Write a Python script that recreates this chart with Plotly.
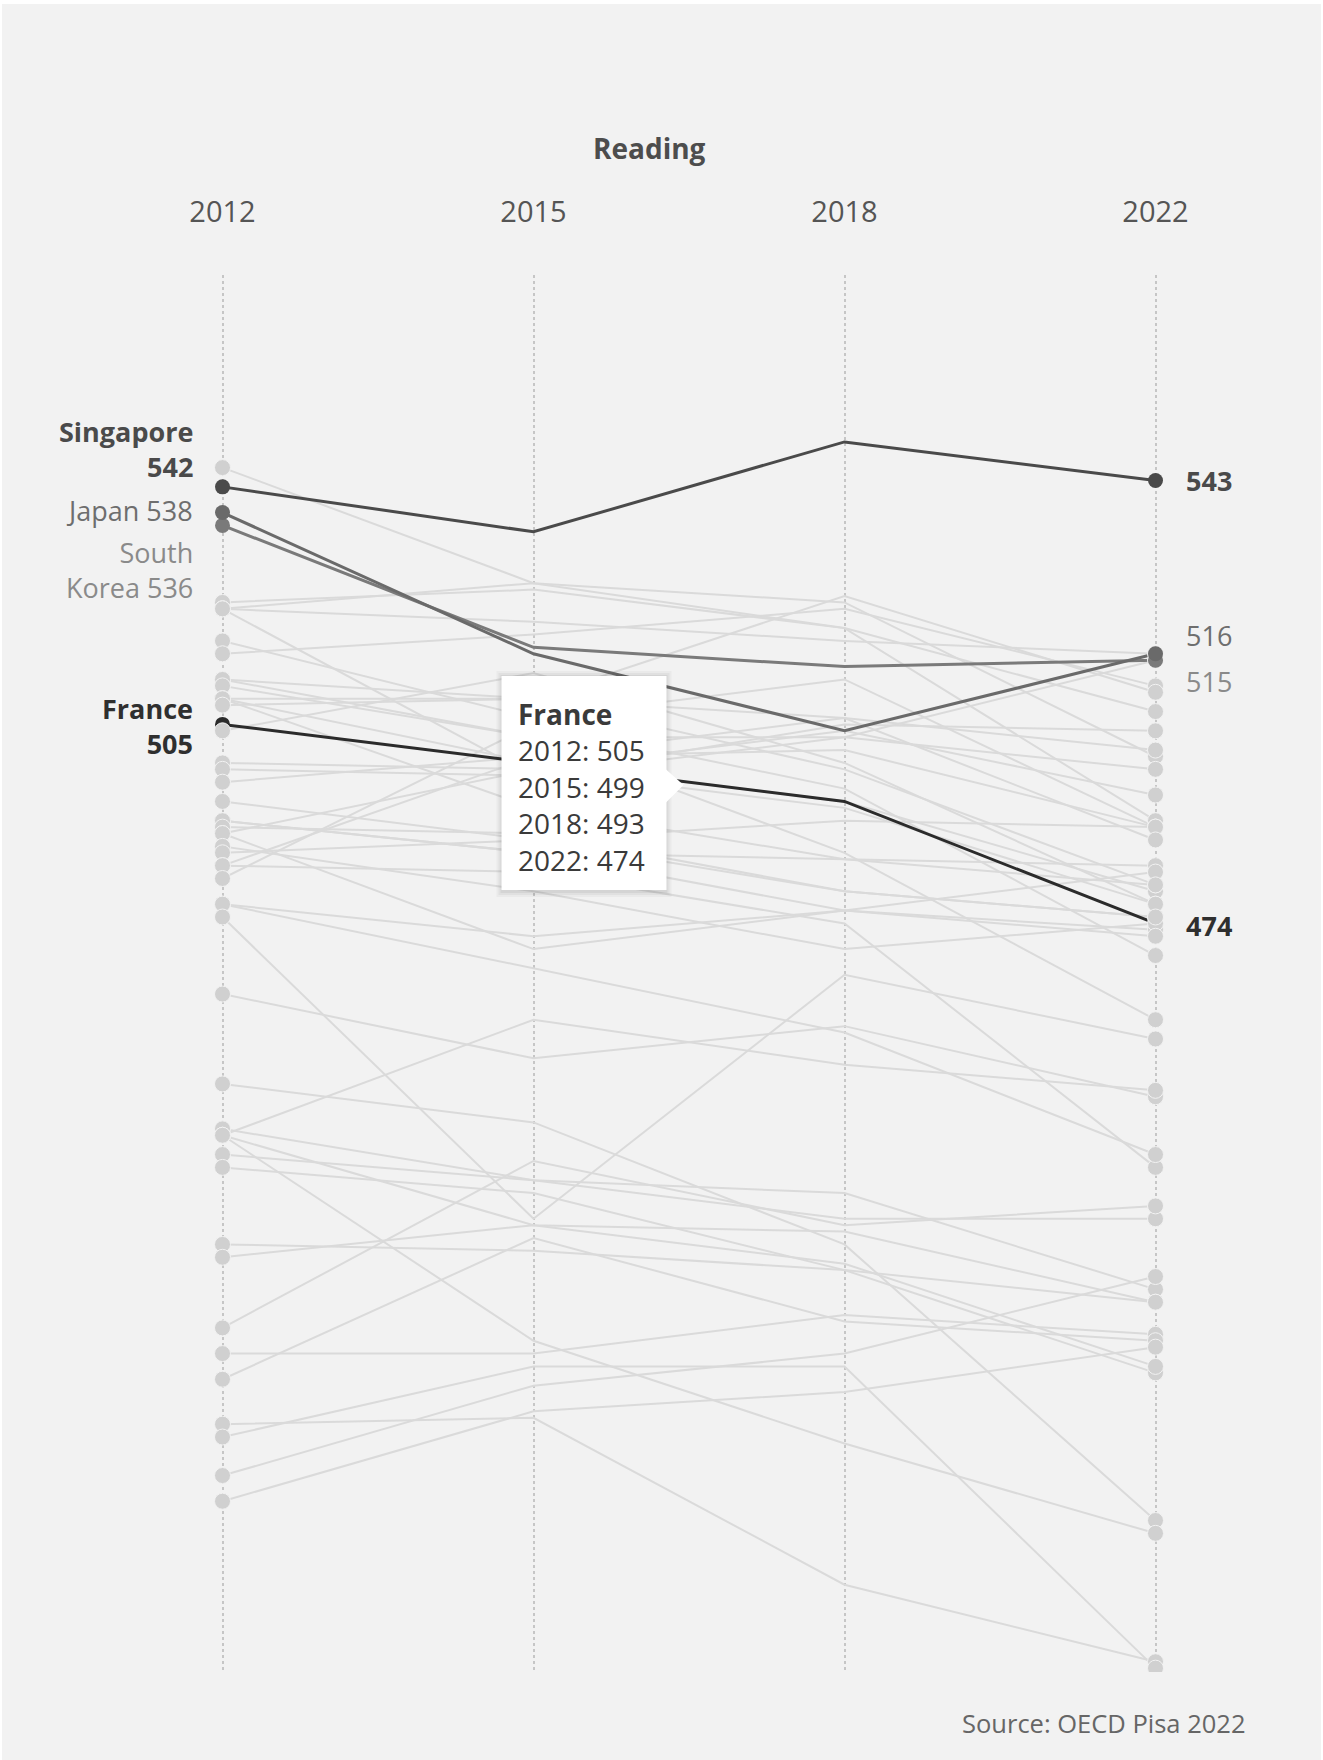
import plotly.graph_objects as go

# PISA reading scores, countries that took part in all four rounds
years = ["2012", "2015", "2018", "2022"]

countries = [
    "Hong Kong", "Singapore", "Japan", "South Korea", "Finland", "Chinese Taipei",
    "Ireland", "Canada", "Poland", "Estonia", "New Zealand", "Australia",
    "Netherlands", "Belgium", "Switzerland", "Macao", "Germany", "France",
    "Norway", "United Kingdom", "United States", "Denmark", "Czech Republic",
    "Italy", "Austria", "Latvia", "Hungary", "Portugal", "Israel", "Croatia",
    "Sweden", "Iceland", "Slovenia", "Lithuania", "Greece", "Turkey", "Slovakia",
    "Cyprus", "United Arab Emirates", "Chile", "Costa Rica", "Thailand",
    "Romania", "Bulgaria", "Mexico", "Montenegro", "Uruguay", "Brazil",
    "Colombia", "Indonesia", "Albania", "Qatar", "Peru",
]

reading_2012 = [545, 542, 538, 536, 524, 523, 523, 523, 518, 516, 512, 512, 511,
                509, 509, 509, 508, 505, 504, 499, 498, 496, 493, 490, 490, 489,
                488, 488, 486, 485, 483, 483, 481, 477, 477, 475, 463, 449, 442,
                441, 441, 441, 438, 436, 424, 422, 411, 407, 403, 396, 394, 388, 384]

reading_2015 = [527, 535, 516, 517, 526, 497, 521, 527, 506, 519, 509, 503, 503,
                499, 492, 509, 509, 499, 513, 498, 497, 500, 487, 485, 485, 488,
                470, 498, 479, 487, 500, 482, 505, 472, 467, 428, 453, 443, 434,
                459, 427, 409, 434, 432, 423, 427, 437, 407, 425, 397, 405, 402, 398]

reading_2018 = [524, 549, 504, 514, 520, 503, 518, 520, 512, 523, 506, 503, 485,
                493, 484, 525, 498, 493, 499, 504, 505, 501, 490, 476, 484, 479,
                476, 492, 470, 479, 506, 474, 495, 476, 457, 466, 458, 424, 432,
                452, 426, 393, 428, 420, 420, 421, 427, 413, 412, 371, 405, 407, 401]

reading_2022 = [500, 543, 516, 515, 490, 515, 516, 507, 489, 511, 501, 498, 459,
                479, 483, 510, 480, 474, 477, 494, 504, 489, 489, 482, 480, 475,
                473, 477, 474, 475, 487, 436, 469, 472, 438, 456, 447, 381, 417,
                448, 415, 379, 428, 404, 415, 405, 430, 410, 409, 359, 358, 419, 408]

highlighted = ["France", "South Korea", "Japan", "Singapore"]
tooltip_country = "France"
chart_title = "Reading"
source_note = "Source: OECD Pisa 2022"

# ---- layout constants -------------------------------------------------------
W, H = 1323, 1760
M_L, M_R, M_T, M_B = 67, 12, 275, 88
PLOT_W, PLOT_H = W - M_L - M_R, H - M_T - M_B
Y_RANGE = [357.4, 575.0]

BG = "#f2f2f2"
LINE_GREY = "#dadada"
DOT_GREY = "#d0d0d0"
FONT = "Open Sans, Roboto, sans-serif"

styles = {
    "Singapore":   dict(line="#4a4a4a", text="#4a4a4a", bold=True),
    "Japan":       dict(line="#6a6a6a", text="#6e6e6e", bold=False),
    "South Korea": dict(line="#7a7a7a", text="#8a8a8a", bold=False),
    "France":      dict(line="#2b2b2b", text="#2f2f2f", bold=True),
}

# label text templates (lines joined with <br>) and vertical offsets in px
left_labels = {
    "Singapore":   (["Singapore", "{v}"], 38),
    "Japan":       (["Japan {v}"], 2),
    "South Korea": (["South", "Korea {v}"], -45),
    "France":      (["France", "{v}"], -2),
}
right_labels = {
    "Singapore":   (["{v}"], 0),
    "Japan":       (["{v}"], 18),
    "South Korea": (["{v}"], -21),
    "France":      (["{v}"], -2),
}

FIRST, SECOND, LAST = 0, 1, len(years) - 1   # category positions on the x axis


def px_x(p):
    return (p - M_L) / PLOT_W


def px_y(p):
    return (H - M_B - p) / PLOT_H


scores = {
    c: [reading_2012[i], reading_2015[i], reading_2018[i], reading_2022[i]]
    for i, c in enumerate(countries)
}
grey_countries = [c for c in countries if c not in highlighted]

fig = go.Figure()

# background lines for every other country
for c in grey_countries:
    fig.add_trace(go.Scatter(
        x=years, y=scores[c], mode="lines",
        line=dict(color=LINE_GREY, width=2), hoverinfo="skip", showlegend=False,
    ))

# France's end dots sit underneath the grey dots
fig.add_trace(go.Scatter(
    x=[years[FIRST], years[LAST]], y=[scores["France"][0], scores["France"][-1]],
    mode="markers", marker=dict(color=styles["France"]["line"], size=15),
    hoverinfo="skip", showlegend=False,
))

# highlighted lines
for c in highlighted:
    fig.add_trace(go.Scatter(
        x=years, y=scores[c], mode="lines",
        line=dict(color=styles[c]["line"], width=3), hoverinfo="skip",
        showlegend=False,
    ))

# grey end dots
fig.add_trace(go.Scatter(
    x=[years[FIRST]] * len(grey_countries) + [years[LAST]] * len(grey_countries),
    y=[scores[c][0] for c in grey_countries] + [scores[c][-1] for c in grey_countries],
    mode="markers",
    marker=dict(color=DOT_GREY, size=16, line=dict(color=BG, width=1)),
    hoverinfo="skip", showlegend=False,
))

# highlighted end dots
for c in ["South Korea", "Japan", "Singapore"]:
    fig.add_trace(go.Scatter(
        x=[years[FIRST], years[LAST]], y=[scores[c][0], scores[c][-1]],
        mode="markers", marker=dict(color=styles[c]["line"], size=15),
        hoverinfo="skip", showlegend=False,
    ))

annotations = []


def label_text(lines, v, bold):
    text = "<br>".join(t.format(v=v) for t in lines)
    return f"<b>{text}</b>" if bold else text


for c, (lines, dy) in left_labels.items():
    v = scores[c][0]
    annotations.append(dict(
        x=FIRST, y=v, xref="x", yref="y", xanchor="right", yanchor="middle",
        xshift=-28, yshift=dy, showarrow=False, align="right",
        text=label_text(lines, v, styles[c]["bold"]),
        font=dict(family=FONT, size=27, color=styles[c]["text"]),
    ))

for c, (lines, dy) in right_labels.items():
    v = scores[c][-1]
    annotations.append(dict(
        x=LAST, y=v, xref="x", yref="y", xanchor="left", yanchor="middle",
        xshift=28, yshift=dy, showarrow=False, align="left",
        text=label_text(lines, v, styles[c]["bold"]),
        font=dict(family=FONT, size=27, color=styles[c]["text"]),
    ))

# tooltip for France, pinned next to its 2015 point
tip = scores[tooltip_country]
tip_lines = [f"<b>{tooltip_country}</b>"] + [f"{y}: {s}" for y, s in zip(years, tip)]
annotations.append(dict(
    x=SECOND, y=tip[1], xref="x", yref="y", xanchor="left", yanchor="top",
    xshift=-18, yshift=70, showarrow=False, align="left",
    text="<br>".join(tip_lines),
    font=dict(family=FONT, size=28, color="#3a3a3a"),
))

# title and source
annotations.append(dict(
    x=px_x(649), y=px_y(148), xref="paper", yref="paper",
    xanchor="center", yanchor="middle", showarrow=False,
    text=f"<b>{chart_title}</b>", font=dict(family=FONT, size=28, color="#4d4d4d"),
))
annotations.append(dict(
    x=px_x(1247), y=px_y(1723), xref="paper", yref="paper",
    xanchor="right", yanchor="middle", showarrow=False,
    text=source_note, font=dict(family=FONT, size=25.5, color="#666666"),
))

shapes = [
    # grey card on a white page
    dict(type="rect", xref="paper", yref="paper", layer="below",
         x0=px_x(2), x1=px_x(1321), y0=px_y(1762), y1=px_y(4),
         fillcolor=BG, line=dict(width=0)),
]

# tooltip box: soft shadow, white body and pointer (pixel offsets from the 2015 point)
box = dict(x0=-32, x1=133, y0=-127, y1=87)
for grow, alpha in [(5, 0.03), (3, 0.04), (1, 0.05)]:
    shapes.append(dict(
        type="rect", xref="x", yref="y", xsizemode="pixel", ysizemode="pixel",
        xanchor=SECOND, yanchor=tip[1], layer="above",
        x0=box["x0"] - grow, x1=box["x1"] + grow,
        y0=box["y0"] - grow - 2, y1=box["y1"] + grow,
        fillcolor=f"rgba(0,0,0,{alpha})", line=dict(width=0),
    ))
shapes.append(dict(
    type="rect", xref="x", yref="y", xsizemode="pixel", ysizemode="pixel",
    xanchor=SECOND, yanchor=tip[1], layer="above",
    x0=box["x0"], x1=box["x1"], y0=box["y0"], y1=box["y1"],
    fillcolor="white", line=dict(width=0),
))
shapes.append(dict(
    type="path", xref="x", yref="y", xsizemode="pixel", ysizemode="pixel",
    xanchor=SECOND, yanchor=tip[1], layer="above",
    path="M 132 -6 L 150 -22 L 132 -40 Z",
    fillcolor="white", line=dict(width=0),
))

fig.update_layout(
    width=W, height=H,
    margin=dict(l=M_L, r=M_R, t=M_T, b=M_B, autoexpand=False),
    paper_bgcolor="white", plot_bgcolor=BG,
    hovermode=False, showlegend=False,
    font=dict(family=FONT),
    xaxis=dict(
        type="category", categoryorder="array", categoryarray=years,
        range=[-0.5, 3.5], side="top", showgrid=True, gridcolor="#c6c6c6",
        gridwidth=1.5, griddash="dot", zeroline=False, showline=False,
        ticks="", ticklabelstandoff=46,
        tickfont=dict(family=FONT, size=29, color="#555555"),
    ),
    yaxis=dict(range=Y_RANGE, showticklabels=False, showgrid=False,
               zeroline=False, showline=False, ticks=""),
    annotations=annotations,
    shapes=shapes,
)

fig.write_html("out.html")
